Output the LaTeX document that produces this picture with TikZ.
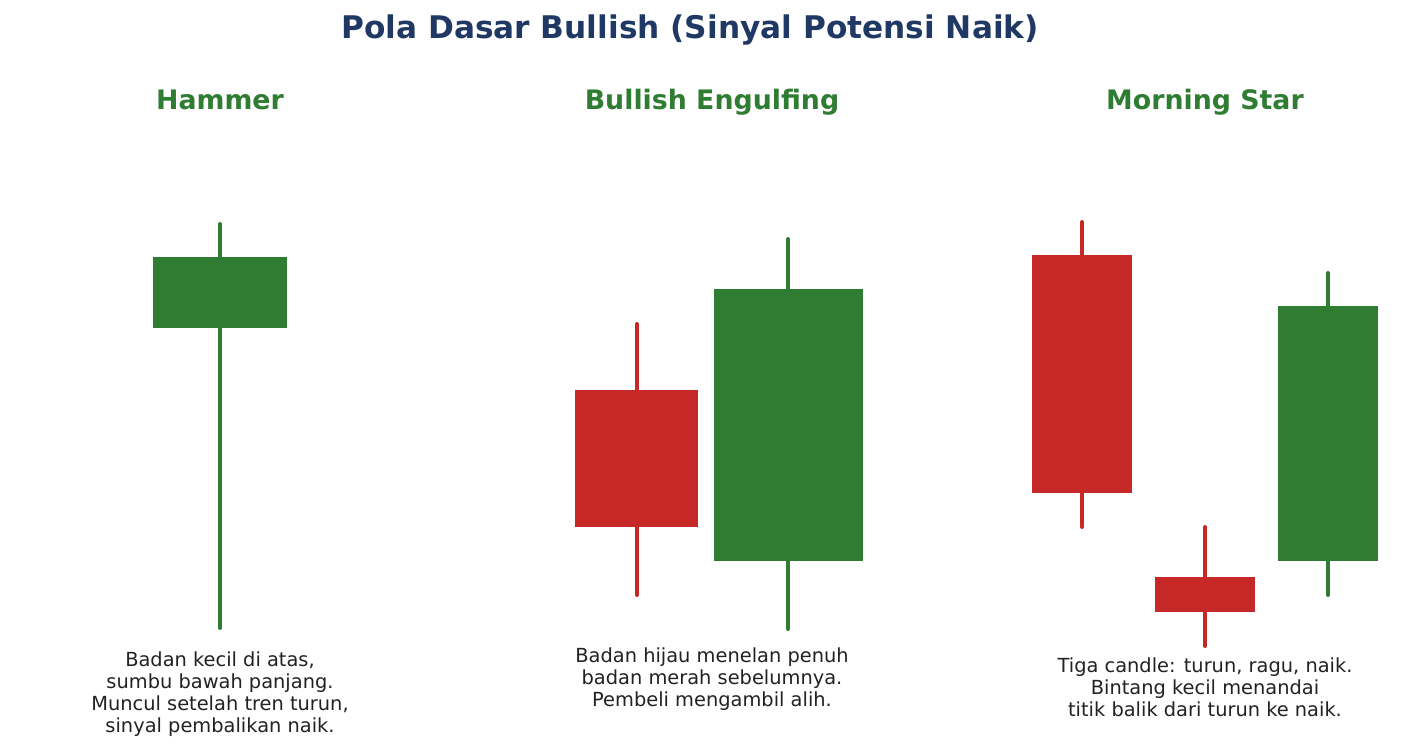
\documentclass[tikz,border=0pt]{standalone}
\usepackage{fontspec}
\setmainfont{DejaVu Sans}
\usepackage{tikz}

\definecolor{naik}{HTML}{2E7D32}
\definecolor{turun}{HTML}{C62828}
\definecolor{judul}{HTML}{1F3864}
\definecolor{teks}{HTML}{222222}

\tikzset{
	sumbu/.style={line width=2pt, line cap=round},
	judulpola/.style={font=\fontsize{13.4}{16}\bfseries\selectfont, text=naik, anchor=base},
	ket/.style={font=\fontsize{9.7}{11}\selectfont, text=teks, align=center},
}

\begin{document}
\begin{tikzpicture}[x=0.5pt,y=-0.5pt]
			\useasboundingbox (0,0) rectangle (1425,751);
			%%%	Judul
			\node[font=\fontsize{15.6}{18}\bfseries\selectfont, text=judul, anchor=base] (judul) at (690,38) {Pola Dasar Bullish (Sinyal Potensi Naik)};
			\node[judulpola] (hammer) at (220,109) {Hammer};
			\node[judulpola] (engulf) at (712,109) {Bullish Engulfing};
			\node[judulpola] (mstar) at (1205,109) {Morning Star};
			%%%	Hammer
			\draw[sumbu, naik] (220,224) -- (220,628);
			\fill[naik] (153,257) rectangle (287,328);
			%%%	Bullish Engulfing
			\draw[sumbu, turun] (637,324) -- (637,595);
			\fill[turun] (575,390) rectangle (698,527);
			\draw[sumbu, naik] (788,239) -- (788,629);
			\fill[naik] (714,289) rectangle (863,561);
			%%%	Morning Star
			\draw[sumbu, turun] (1082,222) -- (1082,527);
			\fill[turun] (1032,255) rectangle (1132,493);
			\draw[sumbu, turun] (1205,527) -- (1205,646);
			\fill[turun] (1155,577) rectangle (1255,612);
			\draw[sumbu, naik] (1328,273) -- (1328,595);
			\fill[naik] (1278,306) rectangle (1378,561);
			%%%	Keterangan
			\node[ket] (kethammer) at (220,694) {Badan kecil di atas,\\sumbu bawah panjang.\\Muncul setelah tren turun,\\sinyal pembalikan naik.};
			\node[ket] (ketengulf) at (712,679) {Badan hijau menelan penuh\\badan merah sebelumnya.\\Pembeli mengambil alih.};
			\node[ket] (ketmstar) at (1205,687) {Tiga candle: turun, ragu, naik.\\Bintang kecil menandai\\titik balik dari turun ke naik.};
		\end{tikzpicture}
\end{document}
